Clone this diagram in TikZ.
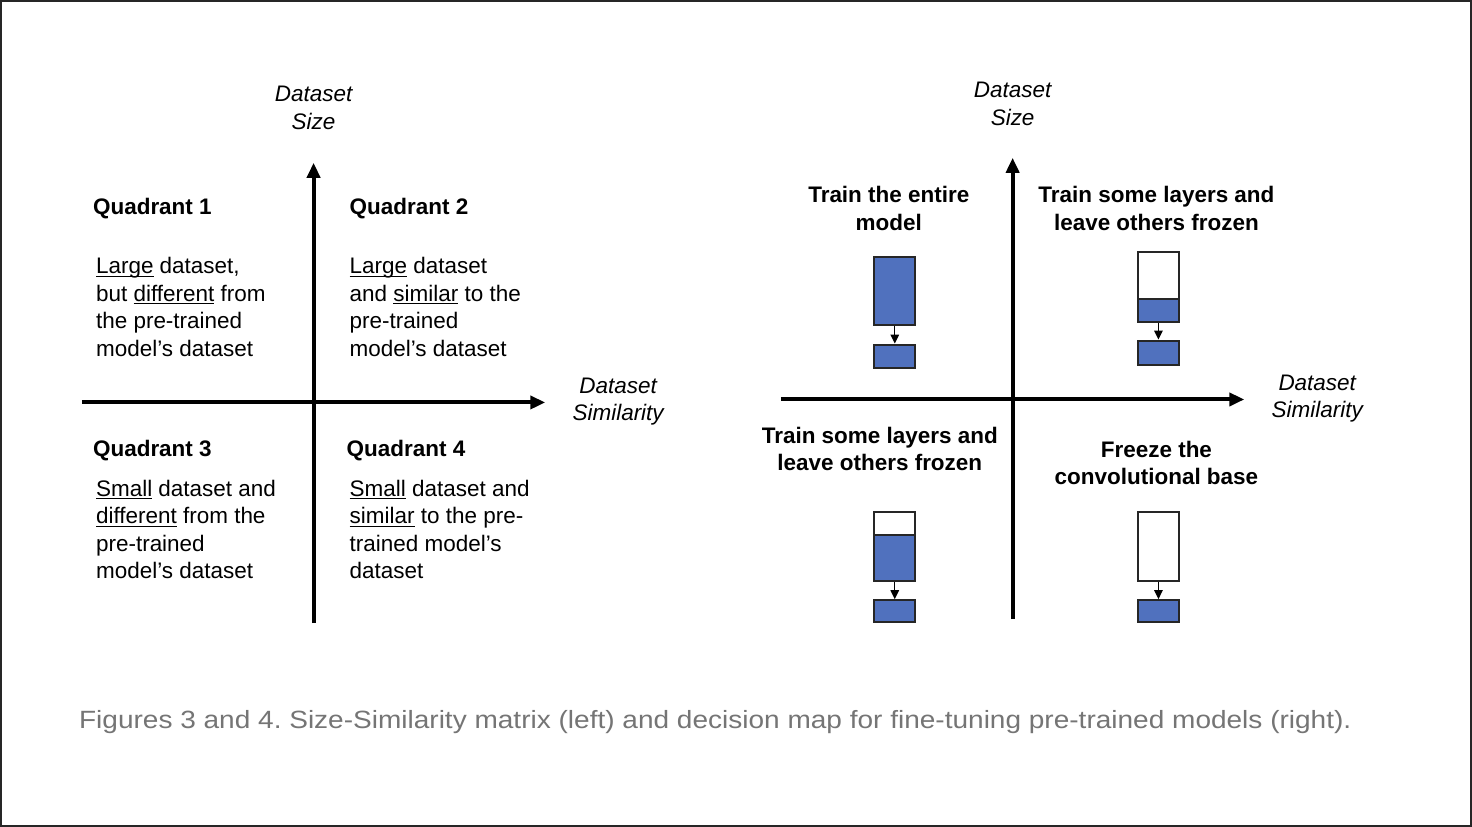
\documentclass[tikz,border=0pt]{standalone}
\usepackage{fontspec}
\usepackage{graphicx}
\setmainfont{Liberation Sans}
\usetikzlibrary{arrows.meta}
\definecolor{boxblue}{RGB}{80,113,190}
\definecolor{capgray}{RGB}{117,117,117}
\newcommand\ulword[1]{\setbox0\hbox{#1}\rlap{\rule[-3pt]{\wd0}{1.1pt}}#1}
\frenchspacing
\begin{document}
\begin{tikzpicture}[x=1pt,y=-1pt,
  axis/.style={line width=4pt,-{Triangle[length=15pt,width=13pt]}},
  txt/.style={inner sep=0pt,font=\fontsize{22.5}{27.5}\selectfont},
  axlbl/.style={txt,align=center,anchor=base,font=\fontsize{22.5}{27.5}\selectfont\itshape},
  qhead/.style={txt,anchor=base west,font=\fontsize{22.5}{27.5}\selectfont\bfseries},
  qbody/.style={txt,anchor=base west,align=left},
  ttl/.style={txt,anchor=base,align=center,font=\fontsize{22.5}{27.5}\selectfont\bfseries},
  layer/.style={draw=black!85,line width=2pt,anchor=north west,inner sep=0pt,minimum width=41pt},
  blue/.style={layer,fill=boxblue},
  white/.style={layer,fill=white},
  flow/.style={line width=1.4pt,-{Triangle[length=9pt,width=8.5pt]}}
]
\fill[white] (0,0) rectangle (1472,826);
\useasboundingbox (0,0) rectangle (1472,826);

% ---------- left chart ----------
\coordinate (lvb) at (313,623);
\coordinate (lvt) at (313,162);
\coordinate (lhl) at (81,402);
\coordinate (lhr) at (545,402);
\draw[axis] (lvb) -- (lvt);
\draw[axis] (lhl) -- (lhr);
\node[axlbl] (lsize) at (313,128.5) {Dataset\\Size};
\node[axlbl] (lsim) at (618,420.5) {Dataset\\Similarity};

\node[qhead] (q1h) at (92,214) {Quadrant 1};
\node[qbody] (q1b) at (95,355.5) {\ulword{Large} dataset,\\but \ulword{different} from\\the pre-trained\\model’s dataset};
\node[qhead] (q2h) at (349,214) {Quadrant 2};
\node[qbody] (q2b) at (349,355.5) {\ulword{Large} dataset\\and \ulword{similar} to the\\pre-trained\\model’s dataset};
\node[qhead] (q3h) at (92,456) {Quadrant 3};
\node[qbody] (q3b) at (95,578.5) {\ulword{Small} dataset and\\\ulword{different} from the\\pre-trained\\model’s dataset};
\node[qhead] (q4h) at (346,456) {Quadrant 4};
\node[qbody] (q4b) at (349,578.5) {\ulword{Small} dataset and\\\ulword{similar} to the pre-\\trained model’s\\dataset};

% ---------- right chart ----------
\coordinate (rvb) at (1013,619);
\coordinate (rvt) at (1013,157);
\coordinate (rhl) at (781,399);
\coordinate (rhr) at (1245,399);
\draw[axis] (rvb) -- (rvt);
\draw[axis] (rhl) -- (rhr);
\node[axlbl] (rsize) at (1013,124.5) {Dataset\\Size};
\node[axlbl] (rsim) at (1318,417.5) {Dataset\\Similarity};

\node[ttl] (t1) at (889,229.5) {Train the entire\\model};
\node[ttl] (t2) at (1157,229.5) {Train some layers and\\leave others frozen};
\node[ttl] (t3) at (880,470.5) {Train some layers and\\leave others frozen};
\node[ttl] (t4) at (1157,484.5) {Freeze the\\convolutional base};

% top-left stack
\node[blue,minimum height=68pt] (a1) at (873.5,255) {};
\node[blue,minimum height=23pt] (a2) at (873.5,343) {};
\draw[flow] (a1.south) -- (a2.north);
% top-right stack
\node[white,minimum height=47pt] (b0) at (1137.5,250) {};
\node[blue,minimum height=23pt] (b1) at (1137.5,297) {};
\node[blue,minimum height=24pt] (b2) at (1137.5,339) {};
\draw[flow] (b1.south) -- (b2.north);
% bottom-left stack
\node[white,minimum height=23pt] (c0) at (873.5,511) {};
\node[blue,minimum height=46pt] (c1) at (873.5,534) {};
\node[blue,minimum height=22pt] (c2) at (873.5,599) {};
\draw[flow] (c1.south) -- (c2.north);
% bottom-right stack
\node[white,minimum height=69pt] (d1) at (1137.5,511) {};
\node[blue,minimum height=22pt] (d2) at (1137.5,599) {};
\draw[flow] (d1.south) -- (d2.north);

% ---------- caption ----------
\node[inner sep=0pt,anchor=base west,text=capgray] (cap) at (78,728)
  {\resizebox{1274pt}{\height}{\fontsize{25}{30}\selectfont Figures 3 and 4. Size-Similarity matrix (left) and decision map for fine-tuning pre-trained models (right).}};
\end{tikzpicture}
\end{document}
